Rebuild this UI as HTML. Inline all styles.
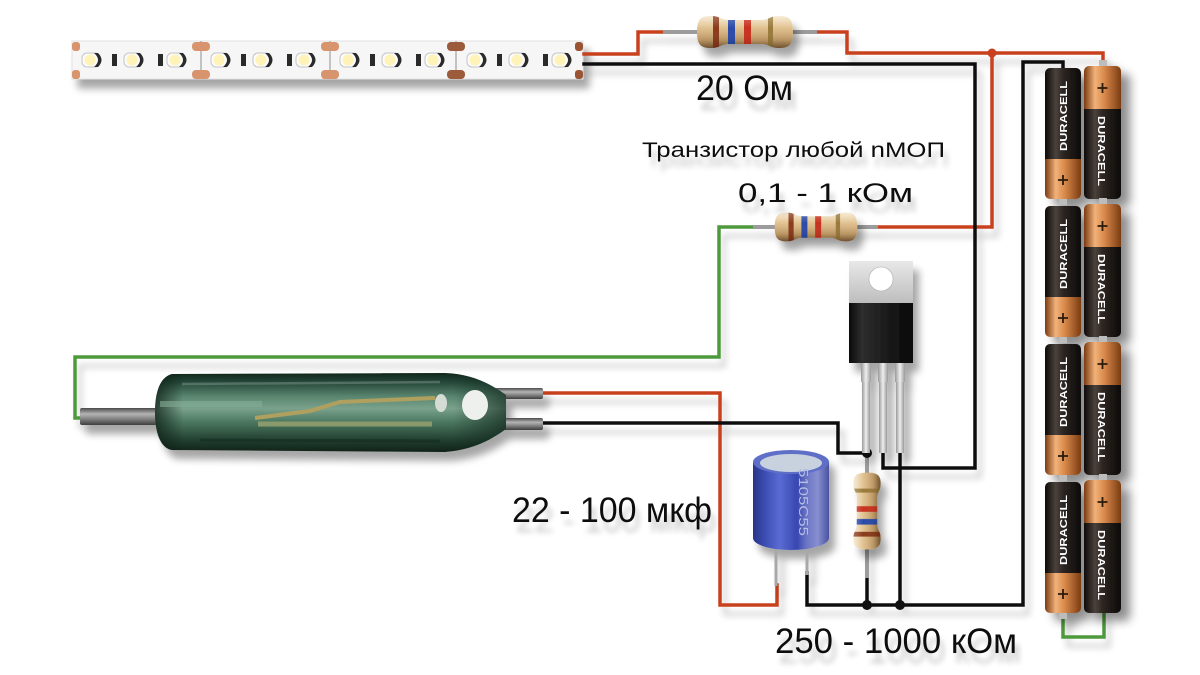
<!DOCTYPE html>
<html>
<head>
<meta charset="utf-8">
<style>
  html,body{margin:0;padding:0;background:#fff;}
  svg{display:block;}
</style>
</head>
<body>
<svg width="1200" height="675" viewBox="0 0 1200 675" xmlns="http://www.w3.org/2000/svg">
<defs>
  <filter id="sh" filterUnits="userSpaceOnUse" x="0" y="0" width="1200" height="675">
    <feGaussianBlur in="SourceAlpha" stdDeviation="4"/>
    <feOffset dx="6" dy="9"/>
    <feComponentTransfer><feFuncA type="linear" slope="0.35"/></feComponentTransfer>
    <feMerge><feMergeNode/><feMergeNode in="SourceGraphic"/></feMerge>
  </filter>
  <filter id="shb" filterUnits="userSpaceOnUse" x="0" y="0" width="1200" height="675">
    <feGaussianBlur in="SourceAlpha" stdDeviation="5"/>
    <feOffset dx="9" dy="8"/>
    <feComponentTransfer><feFuncA type="linear" slope="0.45"/></feComponentTransfer>
    <feMerge><feMergeNode/><feMergeNode in="SourceGraphic"/></feMerge>
  </filter>
  <filter id="shw" filterUnits="userSpaceOnUse" x="0" y="0" width="1200" height="675">
    <feGaussianBlur in="SourceAlpha" stdDeviation="3.5"/>
    <feOffset dx="5" dy="9"/>
    <feComponentTransfer><feFuncA type="linear" slope="0.2"/></feComponentTransfer>
    <feMerge><feMergeNode/><feMergeNode in="SourceGraphic"/></feMerge>
  </filter>
  <filter id="sht" filterUnits="userSpaceOnUse" x="0" y="0" width="1200" height="675">
    <feGaussianBlur in="SourceAlpha" stdDeviation="3"/>
    <feOffset dx="4" dy="10"/>
    <feComponentTransfer><feFuncA type="linear" slope="0.22"/></feComponentTransfer>
    <feMerge><feMergeNode/><feMergeNode in="SourceGraphic"/></feMerge>
  </filter>

  <linearGradient id="resG" x1="0" y1="0" x2="0" y2="1">
    <stop offset="0" stop-color="#f4e4c6"/>
    <stop offset="0.35" stop-color="#e2c392"/>
    <stop offset="0.75" stop-color="#c49c66"/>
    <stop offset="1" stop-color="#8e6a40"/>
  </linearGradient>
  <linearGradient id="resShade" x1="0" y1="0" x2="0" y2="1">
    <stop offset="0" stop-color="#fff" stop-opacity="0.35"/>
    <stop offset="0.4" stop-color="#fff" stop-opacity="0"/>
    <stop offset="0.8" stop-color="#000" stop-opacity="0.12"/>
    <stop offset="1" stop-color="#000" stop-opacity="0.35"/>
  </linearGradient>
  <linearGradient id="capG" x1="0" y1="0" x2="1" y2="0">
    <stop offset="0" stop-color="#27358a"/>
    <stop offset="0.15" stop-color="#3a4cb0"/>
    <stop offset="0.35" stop-color="#5a6cd4"/>
    <stop offset="0.58" stop-color="#3848b0"/>
    <stop offset="0.7" stop-color="#6a74c4"/>
    <stop offset="0.85" stop-color="#8890d0"/>
    <stop offset="1" stop-color="#4a52a0"/>
  </linearGradient>
  <linearGradient id="glassG" x1="0" y1="0" x2="0" y2="1">
    <stop offset="0" stop-color="#11261b"/>
    <stop offset="0.12" stop-color="#26493a"/>
    <stop offset="0.3" stop-color="#5a8670"/>
    <stop offset="0.45" stop-color="#7aa28c"/>
    <stop offset="0.62" stop-color="#4b7760"/>
    <stop offset="0.85" stop-color="#223f30"/>
    <stop offset="1" stop-color="#0f2218"/>
  </linearGradient>
  <linearGradient id="glassEnd" x1="0" y1="0" x2="1" y2="0">
    <stop offset="0" stop-color="#0c1e15" stop-opacity="0.75"/>
    <stop offset="0.08" stop-color="#0c1e15" stop-opacity="0"/>
    <stop offset="0.85" stop-color="#0c1e15" stop-opacity="0"/>
    <stop offset="1" stop-color="#0c1e15" stop-opacity="0.6"/>
  </linearGradient>
  <linearGradient id="metalG" x1="0" y1="0" x2="0" y2="1">
    <stop offset="0" stop-color="#4a4a4a"/>
    <stop offset="0.35" stop-color="#b4b4b4"/>
    <stop offset="0.6" stop-color="#8a8a8a"/>
    <stop offset="1" stop-color="#3e3e3e"/>
  </linearGradient>
  <linearGradient id="leadH" x1="0" y1="0" x2="1" y2="0">
    <stop offset="0" stop-color="#9a9a9a"/>
    <stop offset="0.5" stop-color="#eeeeee"/>
    <stop offset="1" stop-color="#9a9a9a"/>
  </linearGradient>
  <linearGradient id="batBlack" x1="0" y1="0" x2="1" y2="0">
    <stop offset="0" stop-color="#0e0a08"/>
    <stop offset="0.3" stop-color="#4a423c"/>
    <stop offset="0.5" stop-color="#2e2622"/>
    <stop offset="1" stop-color="#0c0908"/>
  </linearGradient>
  <linearGradient id="batCu" x1="0" y1="0" x2="1" y2="0">
    <stop offset="0" stop-color="#7a3a10"/>
    <stop offset="0.3" stop-color="#f2b27a"/>
    <stop offset="0.55" stop-color="#d8894a"/>
    <stop offset="1" stop-color="#7a3c12"/>
  </linearGradient>
  <linearGradient id="tabG" x1="0" y1="0" x2="0" y2="1">
    <stop offset="0" stop-color="#e8e8e8"/>
    <stop offset="1" stop-color="#bcbcbc"/>
  </linearGradient>
  <linearGradient id="tbodyG" x1="0" y1="0" x2="1" y2="0">
    <stop offset="0" stop-color="#0a0a0a"/>
    <stop offset="0.2" stop-color="#2e2e2e"/>
    <stop offset="0.6" stop-color="#1a1a1a"/>
    <stop offset="1" stop-color="#080808"/>
  </linearGradient>

  <clipPath id="resclip">
    <path d="M-48,0 C-48,-13 -44,-16 -34,-16 C-25,-16 -24,-12 -16,-12 L16,-12 C24,-12 25,-16 34,-16 C44,-16 48,-13 48,0 C48,13 44,16 34,16 C25,16 24,12 16,12 L-16,12 C-24,12 -25,16 -34,16 C-44,16 -48,13 -48,0 Z"/>
  </clipPath>
  <g id="res">
    <path d="M-48,0 C-48,-13 -44,-16 -34,-16 C-25,-16 -24,-12 -16,-12 L16,-12 C24,-12 25,-16 34,-16 C44,-16 48,-13 48,0 C48,13 44,16 34,16 C25,16 24,12 16,12 L-16,12 C-24,12 -25,16 -34,16 C-44,16 -48,13 -48,0 Z" fill="url(#resG)"/>
    <g clip-path="url(#resclip)">
      <rect x="-32" y="-20" width="6" height="40" fill="#8a3a1a"/>
      <rect x="-17" y="-20" width="7" height="40" fill="#2a4aa8"/>
      <rect x="-1" y="-20" width="7" height="40" fill="#c8321e"/>
      <rect x="23" y="-20" width="5" height="40" fill="#9a7a3a"/>
      <rect x="-50" y="-20" width="100" height="40" fill="url(#resShade)"/>
    </g>
  </g>

  <g id="seg">
    <rect x="10" y="-7" width="18" height="14" rx="5" fill="#fbfbfb" stroke="#c4c4c4" stroke-width="1"/>
    <circle cx="18" cy="0" r="5.5" fill="#fff3b8"/>
    <path d="M22,-7 Q30,0 22,7 L26,7 Q33,0 26,-7 Z" fill="#2a2a2a"/>
    <rect x="40" y="-6" width="5" height="12" fill="#2a2a2a"/>
    <rect x="52" y="-7" width="18" height="14" rx="5" fill="#fbfbfb" stroke="#c4c4c4" stroke-width="1"/>
    <circle cx="60" cy="0" r="5.5" fill="#fff3b8"/>
    <path d="M64,-7 Q72,0 64,7 L68,7 Q75,0 68,-7 Z" fill="#2a2a2a"/>
    <rect x="86" y="-6" width="5" height="12" fill="#2a2a2a"/>
    <rect x="95" y="-7" width="18" height="14" rx="5" fill="#fbfbfb" stroke="#c4c4c4" stroke-width="1"/>
    <circle cx="103" cy="0" r="5.5" fill="#fff3b8"/>
    <path d="M107,-7 Q115,0 107,7 L111,7 Q118,0 111,-7 Z" fill="#2a2a2a"/>
  </g>

  <clipPath id="batLclip"><rect x="0" y="0" width="36" height="131" rx="5"/></clipPath>
  <g id="batL">
    <g clip-path="url(#batLclip)">
      <rect x="0" y="0" width="36" height="91" fill="url(#batBlack)"/>
      <rect x="0" y="91" width="36" height="40" fill="url(#batCu)"/>
    </g>
    <rect x="14" y="131" width="8" height="6" fill="#bdbdbd"/>
    <path d="M18,107 V117 M13,112 H23" stroke="#2a1a10" stroke-width="1.8"/>
  </g>
  <clipPath id="batRclip"><rect x="0" y="0" width="37" height="133" rx="5"/></clipPath>
  <g id="batR">
    <g clip-path="url(#batRclip)">
      <rect x="0" y="0" width="37" height="43" fill="url(#batCu)"/>
      <rect x="0" y="43" width="37" height="90" fill="url(#batBlack)"/>
    </g>
    <rect x="15" y="-6" width="8" height="6" fill="#bdbdbd"/>
    <path d="M18.5,17 V27 M13.5,22 H23.5" stroke="#2a1a10" stroke-width="1.8"/>
  </g>
</defs>

<rect width="1200" height="675" fill="#fff"/>

<!-- LED strip -->
<g filter="url(#sh)">
  <rect x="72" y="41" width="511" height="38" fill="#f6f6f6" stroke="#e2e2e2" stroke-width="1"/>
</g>
<g>
  <line x1="201" y1="41" x2="201" y2="79" stroke="#777" stroke-width="0.8"/>
  <line x1="330" y1="41" x2="330" y2="79" stroke="#777" stroke-width="0.8"/>
  <line x1="456" y1="41" x2="456" y2="79" stroke="#777" stroke-width="0.8"/>
  <rect x="72" y="42" width="8" height="9" rx="3" fill="#d8946c"/>
  <rect x="72" y="70" width="8" height="9" rx="3" fill="#d8946c"/>
  <rect x="192" y="42" width="18" height="9" rx="4" fill="#d8946c"/>
  <rect x="192" y="70" width="18" height="9" rx="4" fill="#d8946c"/>
  <rect x="321" y="42" width="18" height="9" rx="4" fill="#d8946c"/>
  <rect x="321" y="70" width="18" height="9" rx="4" fill="#d8946c"/>
  <rect x="447" y="42" width="18" height="9" rx="4" fill="#9c5c3c"/>
  <rect x="447" y="70" width="18" height="9" rx="4" fill="#9c5c3c"/>
  <rect x="575" y="42" width="8" height="9" rx="3" fill="#9a5434"/>
  <rect x="575" y="70" width="8" height="9" rx="3" fill="#9a5434"/>
  <use href="#seg" transform="translate(72,60)"/>
  <use href="#seg" transform="translate(201,60)"/>
  <use href="#seg" transform="translate(330,60)"/>
  <use href="#seg" transform="translate(457,60)"/>
</g>

<!-- Wires -->
<g filter="url(#shw)" fill="none" stroke-linejoin="miter" stroke-linecap="square">
  <g stroke="#c8401e" stroke-width="3.5">
    <path d="M584,54 H638 V32 H663"/>
    <path d="M817,32 H847 V53 H1103 V61"/>
    <path d="M992,53 V227 H878"/>
    <path d="M543,393 H720 V605 H777 V585"/>
  </g>
  <g stroke="#111" stroke-width="3.5">
    <path d="M584,64 H975 V468 H883 V452"/>
    <path d="M900,452 V605"/>
    <path d="M867,578 V605"/>
    <path d="M543,423 H838 V453 H867"/>
    <path d="M807,573 V605 H1023 V62 H1063 V68"/>
  </g>
  <g stroke="#4e9a3c" stroke-width="3.5">
    <path d="M753,227 H719 V357 H75 V418 H82"/>
    <path d="M1063,614 V637 H1104 V612"/>
  </g>
  <g stroke="#9c9c9c" stroke-width="4" stroke-linecap="butt">
    <path d="M663,32 H817"/>
    <path d="M753,227 H878"/>
    <path d="M867,455 V578"/>
  </g>
</g>
<circle cx="992" cy="53" r="4.5" fill="#c8401e"/>
<circle cx="867" cy="453" r="5" fill="#111"/>
<circle cx="867" cy="605" r="5" fill="#111"/>
<circle cx="900" cy="605" r="5" fill="#111"/>

<!-- Resistors -->
<g filter="url(#sh)">
  <use href="#res" transform="translate(745,32)"/>
  <use href="#res" transform="translate(816,227) scale(0.86,0.9)"/>
  <use href="#res" transform="translate(867,511) rotate(-90) scale(0.8,0.85)"/>
</g>

<!-- Transistor -->
<g filter="url(#sh)">
  <rect x="862" y="360" width="8" height="93" fill="url(#leadH)"/>
  <rect x="879" y="360" width="8" height="93" fill="url(#leadH)"/>
  <rect x="896" y="360" width="8" height="93" fill="url(#leadH)"/>
  <rect x="861" y="360" width="10" height="22" fill="url(#leadH)"/>
  <rect x="878" y="360" width="10" height="22" fill="url(#leadH)"/>
  <rect x="895" y="360" width="10" height="22" fill="url(#leadH)"/>
  <rect x="849" y="261" width="64" height="43" fill="url(#tabG)"/>
  <circle cx="881" cy="279" r="12" fill="#fff" stroke="#b0b0b0" stroke-width="0.6"/>
  <rect x="849" y="303" width="64" height="60" fill="url(#tbodyG)"/>
</g>

<!-- Capacitor -->
<g filter="url(#sh)">
  <rect x="774.5" y="540" width="3" height="46" fill="#a8a8a8"/>
  <rect x="805.5" y="540" width="3" height="35" fill="#a8a8a8"/>
  <path d="M753,462 L753,538 A38,12 0 0 0 829,538 L829,462 Z" fill="url(#capG)"/>
  <ellipse cx="791" cy="462" rx="38" ry="12" fill="#5e6ec6"/>
  <ellipse cx="791" cy="463" rx="31" ry="9" fill="#c8d2de"/>
  <text transform="translate(799,468) rotate(90)" font-family="Liberation Sans, sans-serif" font-size="13" fill="#b4bce4" textLength="68" lengthAdjust="spacingAndGlyphs">5105C55</text>
</g>

<!-- Reed switch -->
<g filter="url(#sh)">
  <rect x="80" y="408" width="80" height="17" rx="2" fill="url(#metalG)"/>
  <rect x="495" y="388" width="48" height="11" rx="2" fill="url(#metalG)"/>
  <rect x="495" y="418" width="48" height="12" rx="2" fill="url(#metalG)"/>
  <path d="M172,374 C160,377 155,392 155,412 C155,432 160,448 172,450 L445,452 C470,450 488,442 506,429 L506,395 C488,382 470,374 445,373 Z" fill="url(#glassG)"/>
</g>
<path d="M172,374 C160,377 155,392 155,412 C155,432 160,448 172,450 L445,452 C470,450 488,442 506,429 L506,395 C488,382 470,374 445,373 Z" fill="url(#glassEnd)"/>
<g fill="none">
  <path d="M160,404 H262" stroke="#86ad97" stroke-width="6" opacity="0.6"/>
  <path d="M255,418 L310,411 L340,402 L435,398" stroke="#b0a060" stroke-width="4"/>
  <path d="M258,424 L432,424" stroke="#8a9a6c" stroke-width="5"/>
  <path d="M182,384 L440,382" stroke="#ffffff" stroke-width="2.5" opacity="0.2"/>
  <path d="M200,440 L440,441" stroke="#0e2018" stroke-width="3" opacity="0.4"/>
</g>
<ellipse cx="475" cy="405" rx="13" ry="15" fill="#eef0ee"/>
<ellipse cx="441" cy="403" rx="6" ry="9" fill="#d4dcd4"/>

<!-- Batteries -->
<g filter="url(#shb)">
  <use href="#batL" transform="translate(1045,68)"/>
  <use href="#batL" transform="translate(1045,206)"/>
  <use href="#batL" transform="translate(1045,344)"/>
  <use href="#batL" transform="translate(1045,482)"/>
  <use href="#batR" transform="translate(1084,66)"/>
  <use href="#batR" transform="translate(1084,204)"/>
  <use href="#batR" transform="translate(1084,342)"/>
  <use href="#batR" transform="translate(1084,480)"/>
</g>
<g font-family="Liberation Sans, sans-serif" font-weight="bold" font-size="10" fill="#ffffff" text-anchor="middle">
  <text transform="translate(1067,116) rotate(-90)" textLength="70" lengthAdjust="spacingAndGlyphs">DURACELL</text>
  <text transform="translate(1067,254) rotate(-90)" textLength="70" lengthAdjust="spacingAndGlyphs">DURACELL</text>
  <text transform="translate(1067,392) rotate(-90)" textLength="70" lengthAdjust="spacingAndGlyphs">DURACELL</text>
  <text transform="translate(1067,530) rotate(-90)" textLength="70" lengthAdjust="spacingAndGlyphs">DURACELL</text>
  <text transform="translate(1098,151) rotate(90)" textLength="70" lengthAdjust="spacingAndGlyphs">DURACELL</text>
  <text transform="translate(1098,289) rotate(90)" textLength="70" lengthAdjust="spacingAndGlyphs">DURACELL</text>
  <text transform="translate(1098,427) rotate(90)" textLength="70" lengthAdjust="spacingAndGlyphs">DURACELL</text>
  <text transform="translate(1098,565) rotate(90)" textLength="70" lengthAdjust="spacingAndGlyphs">DURACELL</text>
</g>

<!-- Labels -->
<g font-family="Liberation Sans, 'DejaVu Sans', sans-serif" fill="#111" filter="url(#sht)">
  <text x="696" y="100" font-size="35" textLength="97" lengthAdjust="spacingAndGlyphs">20 Ом</text>
  <text x="642" y="157" font-size="21" textLength="303" lengthAdjust="spacingAndGlyphs">Транзистор любой nМОП</text>
  <text x="738" y="202" font-size="27" textLength="175" lengthAdjust="spacingAndGlyphs">0,1 - 1 кОм</text>
  <text x="512" y="522" font-size="35" textLength="200" lengthAdjust="spacingAndGlyphs">22 - 100 мкф</text>
  <text x="775" y="653" font-size="35" textLength="242" lengthAdjust="spacingAndGlyphs">250 - 1000 кОм</text>
</g>
</svg>
</body>
</html>
